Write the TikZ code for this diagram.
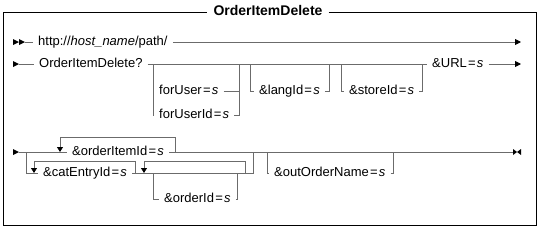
\documentclass[tikz,border=0pt]{standalone}
\usepackage{fontspec}
\setmainfont{Liberation Sans}
\usetikzlibrary{arrows.meta}
\definecolor{railgray}{gray}{0.42}
\newcommand{\eqs}{\kern1.2pt=\kern1.2pt\textit{s}}
\begin{document}
\begin{tikzpicture}[x=1pt,y=-1pt,
  rail/.style={draw=railgray, line width=0.9pt},
  railarrow/.style={rail, -{Triangle[width=6pt,length=6pt,color=black]}},
  looparrow/.style={rail, -{Triangle[width=6pt,length=5pt,color=black]}},
  lbl/.style={inner xsep=5pt, inner ysep=0pt, text height=6.8pt, text depth=0pt,
    anchor=west, font=\fontsize{13}{15}\selectfont},
  ttl/.style={inner xsep=6pt, inner ysep=0pt, text height=6.5pt, text depth=0pt,
    font=\bfseries\fontsize{14}{16}\selectfont},
  tip/.style={fill=black}
]
\useasboundingbox (0,0) rectangle (538,228);

% frame with title
\node[ttl] (title) at (268,12) {OrderItemDelete};
\draw[line width=0.9pt] (title.east) -- (536,12) -- (536,225) -- (3,225) -- (3,12) -- (title.west);

% ---------- row 1 ----------
\fill[tip] (13,39) -- (19,42) -- (13,45) -- cycle;
\fill[tip] (19,39) -- (25,42) -- (19,45) -- cycle;
\coordinate (r1s) at (25,42);
\coordinate (r1e) at (521,42);
\node[lbl] (http) at (33,42) {http://\textit{host\_name}/path/};
\draw[rail] (r1s) -- (http.west);
\draw[railarrow] (http.east) -- (r1e);

% ---------- row 2 ----------
\fill[tip] (13,61) -- (19,64) -- (13,67) -- cycle;
\coordinate (r2s) at (19,64);
\coordinate (r2e) at (521,64);
\node[lbl] (oid) at (34,64) {OrderItemDelete?};
\node[lbl] (url) at (427,64) {\&URL\eqs};
\draw[rail] (r2s) -- (oid.west);
\draw[rail] (oid.east) -- (url.west);
\draw[railarrow] (url.east) -- (r2e);

% forUser / forUserId
\coordinate (fu1) at (153,64);
\coordinate (fu2) at (239,64);
\node[lbl] (fu) at (154,91) {forUser\eqs};
\node[lbl] (fui) at (154,115) {forUserId\eqs};
\draw[rail] (fu1) |- (fui.west);
\draw[rail] (fu1 |- fu.west) -- (fu.west);
\draw[rail] (fui.east) -| (fu2);
\draw[rail] (fu.east) -- (fu2 |- fu.east);

% langId
\coordinate (lg1) at (250,64);
\coordinate (lg2) at (329,64);
\node[lbl] (lang) at (254,91) {\&langId\eqs};
\draw[rail] (lg1) |- (lang.west);
\draw[rail] (lang.east) -| (lg2);

% storeId
\coordinate (st1) at (341,64);
\coordinate (st2) at (422,64);
\node[lbl] (store) at (344,91) {\&storeId\eqs};
\draw[rail] (st1) |- (store.west);
\draw[rail] (store.east) -| (st2);

% ---------- row 3 ----------
\fill[tip] (13,149) -- (19,152) -- (13,155) -- cycle;
\coordinate (r3s) at (19,152);
\coordinate (r3e) at (513,152);
\node[lbl] (oi) at (67,152) {\&orderItemId\eqs};
\draw[rail] (r3s) -- (oi.west);
\draw[rail] (oi.east) -- (r3e);
% loop over orderItemId
\coordinate (l1r) at (175,152);
\coordinate (l1l) at (60,152);
\draw[looparrow] (l1r) -- ++(0,-15) -| (l1l);

% catEntryId branch
\coordinate (c0) at (26,152);
\coordinate (j1) at (253,152);
\node[lbl] (cat) at (38,173) {\&catEntryId\eqs};
\draw[rail] (c0) |- (cat.west);
\draw[rail] (cat.east) -| (j1);
% loop over catEntryId
\coordinate (cl1) at (135,173);
\coordinate (cl2) at (34,173);
\draw[looparrow] (cl1) -- ++(0,-12) -| (cl2);
% loop over orderId part
\coordinate (ol1) at (245,173);
\coordinate (ol2) at (144,173);
\draw[looparrow] (ol1) -- ++(0,-12) -| (ol2);
% orderId optional
\coordinate (ob1) at (153,173);
\coordinate (ob2) at (237,173);
\node[lbl] (ord) at (159,199) {\&orderId\eqs};
\draw[rail] (ob1) |- (ord.west);
\draw[rail] (ord.east) -| (ob2);

% outOrderName optional
\coordinate (on1) at (267,152);
\coordinate (on2) at (393,152);
\node[lbl] (oon) at (269,173) {\&outOrderName\eqs};
\draw[rail] (on1) |- (oon.west);
\draw[rail] (oon.east) -| (on2);

% end marker
\fill[tip] (513,149) -- (517,152) -- (513,155) -- cycle;
\fill[tip] (521,149) -- (517,152) -- (521,155) -- cycle;
\end{tikzpicture}
\end{document}
